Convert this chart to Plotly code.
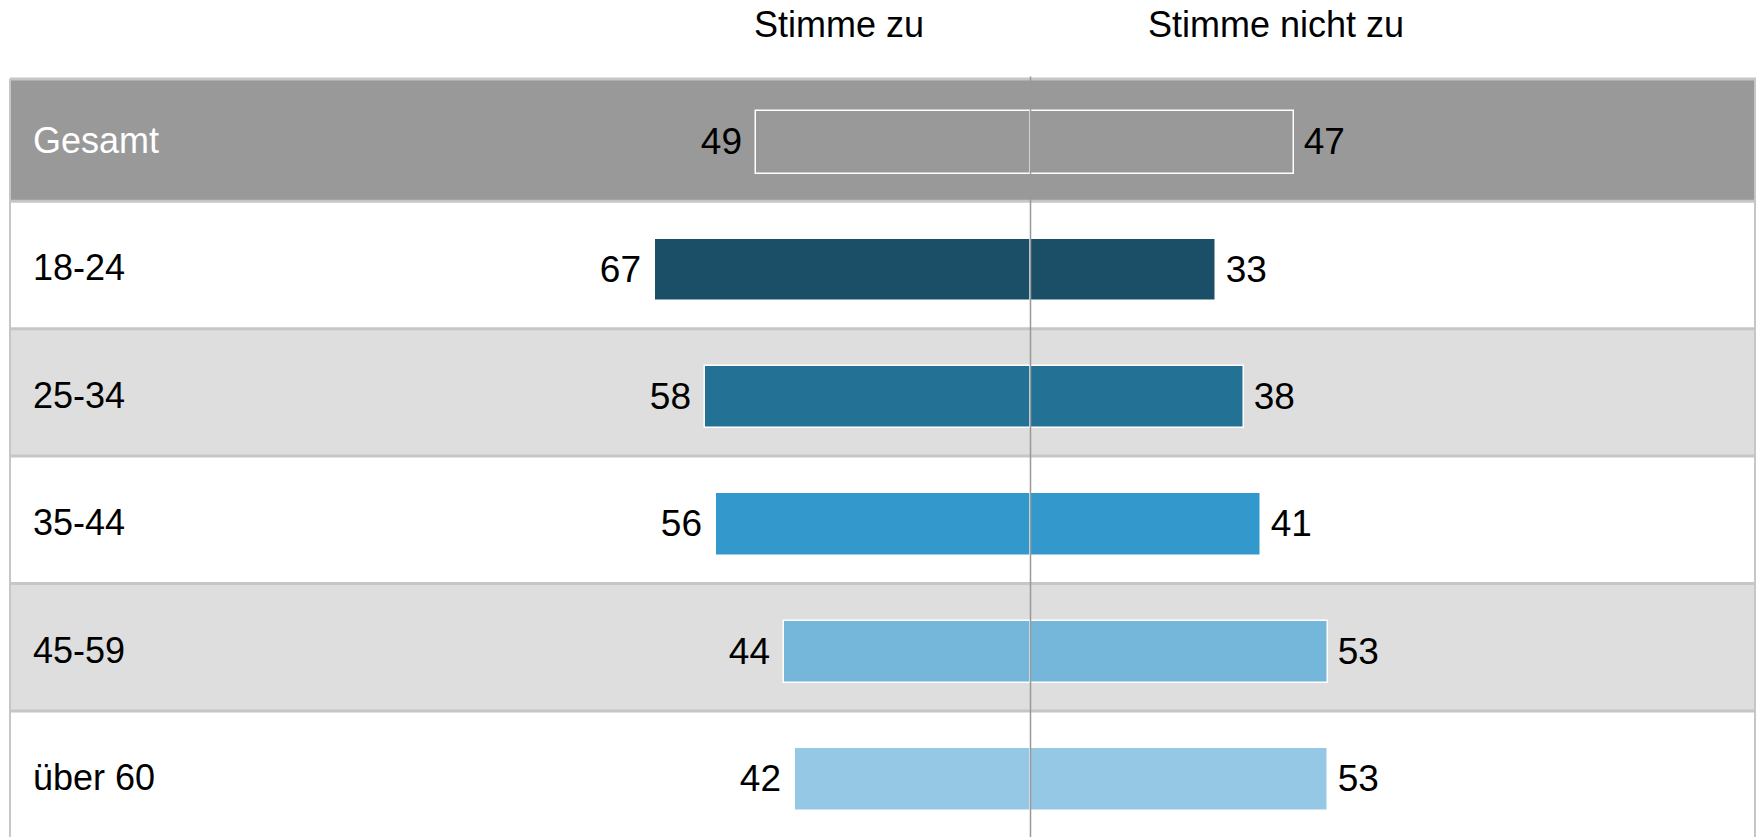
import plotly.graph_objects as go

# ---- data ----
categories = ["Gesamt", "18-24", "25-34", "35-44", "45-59", "über 60"]
agree = [49, 67, 58, 56, 44, 42]          # Stimme zu
disagree = [47, 33, 38, 41, 53, 53]       # Stimme nicht zu
headers = ["Stimme zu", "Stimme nicht zu"]

# ---- styles ----
bar_colors = ["#999999", "#1b4f68", "#247196", "#3399cc", "#74b7db", "#95c8e4"]
row_colors = ["#999999", "#ffffff", "#dedede", "#ffffff", "#dedede", "#ffffff"]
label_colors = ["#ffffff", "#000000", "#000000", "#000000", "#000000", "#000000"]
FONT = "Arial, 'Liberation Sans', sans-serif"
W, H = 1756, 837

n = len(categories)
ypos = list(range(n))
NBSP = "\u00a0"
THIN = "\u2009"

fig = go.Figure()
fig.add_trace(go.Bar(
    y=ypos, x=[-v for v in agree], orientation="h", name=headers[0],
    marker=dict(color=bar_colors, line=dict(color="#ffffff", width=1.5)),
    text=[f"{v}{NBSP}" for v in agree], textposition="outside",
    textfont=dict(family=FONT, size=37, color="#000000"),
    constraintext="none", cliponaxis=False, width=0.49, hoverinfo="skip",
))
fig.add_trace(go.Bar(
    y=ypos, x=disagree, orientation="h", name=headers[1],
    marker=dict(color=bar_colors, line=dict(color="#ffffff", width=1.5)),
    text=[f"{THIN}{v}" for v in disagree], textposition="outside",
    textfont=dict(family=FONT, size=37, color="#000000"),
    constraintext="none", cliponaxis=False, width=0.49, hoverinfo="skip",
))

# row geometry (in category units)
top_first = -0.497
def row_top(i):
    return top_first if i == 0 else i - 0.538
def row_bottom(i):
    return i + 0.462

x_left = 10 / W
shapes = []
for i in range(n):
    shapes.append(dict(type="rect", xref="paper", yref="y", x0=x_left, x1=1,
                       y0=row_top(i), y1=row_bottom(i), fillcolor=row_colors[i],
                       line=dict(width=0), layer="below"))
# horizontal borders
bounds = [row_top(0)] + [row_bottom(i) for i in range(n)]
for b in bounds:
    shapes.append(dict(type="line", xref="paper", yref="y", x0=x_left, x1=1,
                       y0=b, y1=b, line=dict(color="#c6c6c6", width=3), layer="below"))
# vertical borders
for xv in (x_left, 1755 / W):
    shapes.append(dict(type="line", xref="paper", yref="y", x0=xv, x1=xv,
                       y0=row_top(0), y1=n + 0.5, line=dict(color="#c6c6c6", width=2), layer="below"))
# center line
shapes.append(dict(type="line", xref="x", yref="y", x0=0, x1=0,
                   y0=row_top(0) - 0.02, y1=n + 0.5, line=dict(color="#999999", width=1.5), layer="above"))

annotations = []
for i, c in enumerate(categories):
    annotations.append(dict(text=c, xref="paper", yref="y", x=31 / W, y=i, xanchor="left",
                            yanchor="middle", showarrow=False, yshift=2,
                            font=dict(family=FONT, size=36, color=label_colors[i])))
for hx, h in zip((839 / W, 1276 / W), headers):
    annotations.append(dict(text=h, xref="paper", yref="paper", x=hx, y=1 - 24 / H,
                            xanchor="center", yanchor="middle", showarrow=False,
                            font=dict(family=FONT, size=36, color="#000000")))

scale = 5.61      # px per percentage point
center_px = 1030.5
ypx0, ypx_step = 142.3, 127.46

fig.update_layout(
    width=W, height=H, margin=dict(l=0, r=0, t=0, b=0),
    paper_bgcolor="#ffffff", plot_bgcolor="#ffffff",
    barmode="relative", showlegend=False, bargap=0,
    shapes=shapes, annotations=annotations, hovermode=False,
    xaxis=dict(range=[-center_px / scale, (W - center_px) / scale], visible=False, fixedrange=True),
    yaxis=dict(range=[(H - ypx0) / ypx_step, -ypx0 / ypx_step], visible=False, fixedrange=True),
)

fig.write_html("out.html", config={"displayModeBar": False},
               post_script="document.body.style.margin='0';document.body.style.overflow='hidden';")
